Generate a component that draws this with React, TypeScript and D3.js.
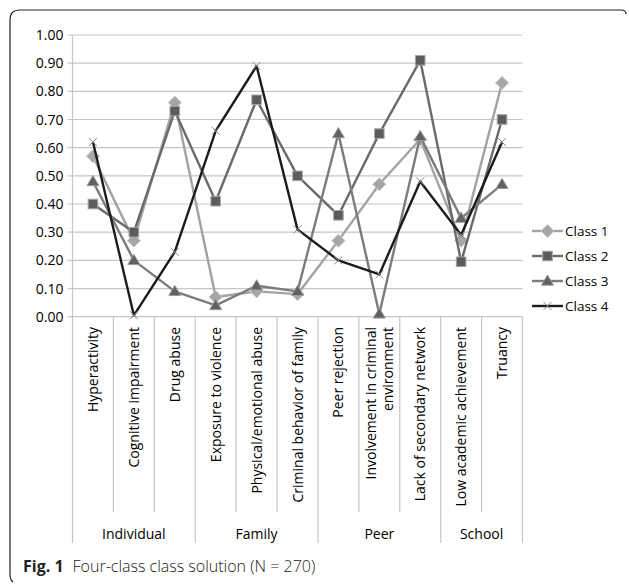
import React from "react";
import * as d3 from "d3";

const categories = [
  ["Hyperactivity"],
  ["Cognitive impairment"],
  ["Drug abuse"],
  ["Exposure to violence"],
  ["Physical/emotional abuse"],
  ["Criminal behavior of family"],
  ["Peer rejection"],
  ["Involvement in criminal", "environment"],
  ["Lack of secondary network"],
  ["Low academic achievement"],
  ["Truancy"],
];
const groups = [
  { name: "Individual", start: 0, end: 3 },
  { name: "Family", start: 3, end: 6 },
  { name: "Peer", start: 6, end: 9 },
  { name: "School", start: 9, end: 11 },
];
const class1 = [0.57, 0.27, 0.76, 0.07, 0.09, 0.08, 0.27, 0.47, 0.63, 0.27, 0.83];
const class2 = [0.40, 0.30, 0.73, 0.41, 0.77, 0.50, 0.36, 0.65, 0.91, 0.195, 0.70];
const class3 = [0.48, 0.20, 0.09, 0.04, 0.11, 0.09, 0.65, 0.01, 0.64, 0.35, 0.47];
const class4 = [0.62, 0.005, 0.23, 0.66, 0.89, 0.31, 0.20, 0.15, 0.48, 0.29, 0.62];
const seriesNames = ["Class 1", "Class 2", "Class 3", "Class 4"];
const yTicks = [0, 0.1, 0.2, 0.3, 0.4, 0.5, 0.6, 0.7, 0.8, 0.9, 1.0];

const styles = [
  { line: "#a3a3a3", marker: "diamond", fill: "#a6a6a6", stroke: "#c4c4c4" },
  { line: "#6a6a6a", marker: "square", fill: "#5c5c5c", stroke: "#a8a8a8" },
  { line: "#7c7c7c", marker: "triangle", fill: "#616161", stroke: "#9a9a9a" },
  { line: "#1c1c1c", marker: "x", fill: "none", stroke: "#8a8a8a" },
];

const FONT = "'Open Sans', sans-serif";

function Marker({ kind, x, y, fill, stroke }: any) {
  if (kind === "diamond") {
    const r = 6.5;
    return <path d={`M${x},${y - r}L${x + r},${y}L${x},${y + r}L${x - r},${y}Z`} fill={fill} stroke={stroke} strokeWidth={1} />;
  }
  if (kind === "square") {
    const r = 4.8;
    return <rect x={x - r} y={y - r} width={2 * r} height={2 * r} fill={fill} stroke={stroke} strokeWidth={1} />;
  }
  if (kind === "triangle") {
    const r = 6;
    return <path d={`M${x},${y - r}L${x + r},${y + r * 0.7}L${x - r},${y + r * 0.7}Z`} fill={fill} stroke={stroke} strokeWidth={1} />;
  }
  const r = 4;
  return (
    <path d={`M${x - r},${y - r}L${x + r},${y + r}M${x - r},${y + r}L${x + r},${y - r}`} stroke={stroke} strokeWidth={1} fill="none" />
  );
}

export default function App() {
  const W = 629;
  const H = 584;
  const left = 72.5;
  const right = 522.5;
  const top = 35;
  const bottom = 316.7;
  const catIdx = categories.map((_, i) => i);
  const x = d3.scaleBand<number>().domain(catIdx).range([left, right]).padding(0);
  const y = d3.scaleLinear().domain([0, 1]).range([bottom, top]);
  const cx = (i: number) => (x(i) as number) + x.bandwidth() / 2;
  const data = [class1, class2, class3, class4];
  const line = d3
    .line<number>()
    .x((_, i) => cx(i))
    .y((d) => y(d));

  const catLineBottom = 512;
  const groupLineBottom = 543;
  const labelTop = 327;
  const fs = 14;

  return (
    <svg width={W} height={H} style={{ position: "absolute", left: 0, top: 0, background: "#fff" }}>
      {/* frame */}
      <path
        d={`M626,14 Q626,10 621,10 L20,10 Q10,10 10,20 L10,574 Q10,580 13,582`}
        fill="none"
        stroke="#222"
        strokeWidth={1.2}
      />
      {/* gridlines */}
      {yTicks.map((t) => (
        <line key={t} x1={left - 5} x2={right} y1={y(t)} y2={y(t)} stroke="#c6c6c6" strokeWidth={1.2} />
      ))}
      <line x1={left} x2={left} y1={top} y2={groupLineBottom} stroke="#c6c6c6" strokeWidth={1.2} />
      {/* y tick labels */}
      {yTicks.map((t) => (
        <text
          key={"l" + t}
          x={63.5}
          y={y(t)}
          dy="0.36em"
          textAnchor="end"
          fontFamily={FONT}
          fontSize={fs}
          fill="#000"
        >
          {d3.format(".2f")(t)}
        </text>
      ))}
      {/* category dividers */}
      {catIdx.map((i) => {
        const xr = (x(i) as number) + x.bandwidth();
        const isGroupEnd = groups.some((g) => g.end === i + 1);
        return (
          <line
            key={"c" + i}
            x1={xr}
            x2={xr}
            y1={bottom}
            y2={isGroupEnd ? groupLineBottom : catLineBottom}
            stroke="#c6c6c6"
            strokeWidth={1.2}
          />
        );
      })}
      {/* category labels */}
      {categories.map((lines, i) => (
        <text
          key={"t" + i}
          transform={`translate(${cx(i)},${labelTop}) rotate(-90)`}
          textAnchor="end"
          fontFamily={FONT}
          fontSize={fs}
          fill="#000"
        >
          {lines.map((l, j) => (
            <tspan key={j} x={0} y={(j - (lines.length - 1) / 2) * 17} dy="0.36em">
              {l}
            </tspan>
          ))}
        </text>
      ))}
      {/* group labels */}
      {groups.map((g) => {
        const x0 = x(g.start) as number;
        const x1 = (x(g.end - 1) as number) + x.bandwidth();
        return (
          <text
            key={g.name}
            x={(x0 + x1) / 2}
            y={534}
            dy="0.36em"
            textAnchor="middle"
            fontFamily={FONT}
            fontSize={fs}
            fill="#000"
          >
            {g.name}
          </text>
        );
      })}
      {/* series */}
      {data.map((vals, s) => (
        <g key={"s" + s}>
          <path d={line(vals) || ""} fill="none" stroke={styles[s].line} strokeWidth={2.4} strokeLinejoin="round" />
          {vals.map((v, i) => (
            <Marker key={i} kind={styles[s].marker} x={cx(i)} y={y(v)} fill={styles[s].fill} stroke={styles[s].stroke} />
          ))}
        </g>
      ))}
      {/* legend */}
      {seriesNames.map((n, s) => {
        const ly = 231 + s * 25;
        return (
          <g key={n}>
            <line x1={532} x2={563} y1={ly} y2={ly} stroke={styles[s].line} strokeWidth={2.4} />
            <Marker kind={styles[s].marker} x={547.5} y={ly} fill={styles[s].fill} stroke={styles[s].stroke} />
            <text x={565} y={ly} dy="0.36em" fontFamily={FONT} fontSize={13.5} fill="#000">
              {n}
            </text>
          </g>
        );
      })}
      {/* caption */}
      <text x={23} y={566} dy="0.36em" fontFamily={FONT} fontSize={16} fill="#222">
        <tspan fontWeight="bold">Fig. 1</tspan>
        <tspan dx={9} fontWeight={300}>
          Four-class class solution (N = 270)
        </tspan>
      </text>
    </svg>
  );
}
